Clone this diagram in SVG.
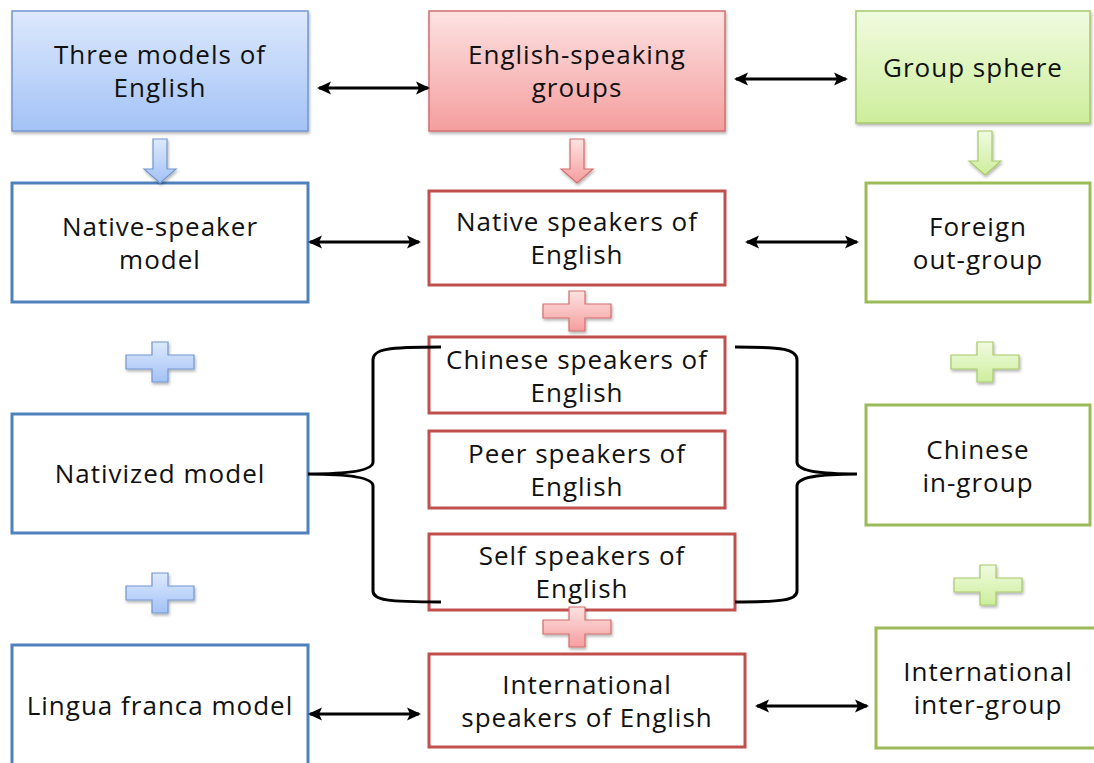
<svg xmlns="http://www.w3.org/2000/svg" width="1094" height="763" viewBox="0 0 1094 763">
<defs>
<linearGradient id="gb" x1="0" y1="0" x2="0" y2="1"><stop offset="0" stop-color="#dde9fd"/><stop offset="1" stop-color="#a3c2f6"/></linearGradient>
<linearGradient id="gr" x1="0" y1="0" x2="0" y2="1"><stop offset="0" stop-color="#fde2e2"/><stop offset="1" stop-color="#f59e9e"/></linearGradient>
<linearGradient id="gg" x1="0" y1="0" x2="0" y2="1"><stop offset="0" stop-color="#f0fbe0"/><stop offset="1" stop-color="#cdee9c"/></linearGradient>
<filter id="sh" x="-10%" y="-10%" width="130%" height="130%"><feDropShadow dx="1" dy="2" stdDeviation="1.5" flood-color="#000" flood-opacity="0.3"/></filter>
<marker id="ah" viewBox="0 0 16 16" refX="13" refY="8" markerWidth="16" markerHeight="16" markerUnits="userSpaceOnUse" orient="auto-start-reverse"><path d="M1,1.5 L15,8 L1,14.5 L4,8 Z" fill="#000"/></marker>
<path id="plus" d="M-8,-20 H8 V-7 H34 V7 H8 V20 H-8 V7 H-34 V-7 H-8 Z"/>
<path id="down" d="M-7,0 H7 V30 H16 L0,44 L-16,30 H-7 Z"/>
</defs>
<style>
text{font-family:"Open Sans","Liberation Sans",sans-serif;font-size:26px;letter-spacing:1px;fill:#111;text-anchor:middle}
.hb{fill:url(#gb);stroke:#7397d0;stroke-width:1.5;filter:url(#sh)}
.hr{fill:url(#gr);stroke:#d26e6c;stroke-width:1.5;filter:url(#sh)}
.hg{fill:url(#gg);stroke:#a7c96b;stroke-width:1.5;filter:url(#sh)}
.bb{fill:#fff;stroke:#4f81bd;stroke-width:3}
.br{fill:#fff;stroke:#c0504d;stroke-width:3}
.bg{fill:#fff;stroke:#9bbb59;stroke-width:3}
.pb{fill:url(#gb);stroke:#7397d0;stroke-width:1.2;filter:url(#sh)}
.pr{fill:url(#gr);stroke:#d26e6c;stroke-width:1.2;filter:url(#sh)}
.pg{fill:url(#gg);stroke:#a7c96b;stroke-width:1.2;filter:url(#sh)}
.con{fill:none;stroke:#000;stroke-width:3}
.dbl{marker-start:url(#ah);marker-end:url(#ah)}
</style>
<rect width="1094" height="763" fill="#fff"/>

<g id="n-three-models"><rect class="hb" x="12" y="11" width="296" height="120"/><text x="160" y="64">Three models of</text><text x="160" y="97">English</text></g>
<g id="n-english-speaking"><rect class="hr" x="429" y="11" width="296" height="120"/><text x="577" y="64">English-speaking</text><text x="577" y="97">groups</text></g>
<g id="n-group-sphere"><rect class="hg" x="856" y="11" width="234" height="112"/><text x="973" y="77">Group sphere</text></g>

<g id="n-native-model"><rect class="bb" x="12" y="183" width="296" height="119"/><text x="160" y="236">Native-speaker</text><text x="160" y="269">model</text></g>
<g id="n-native-speakers"><rect class="br" x="429" y="191" width="296" height="94"/><text x="577" y="231">Native speakers of</text><text x="577" y="264">English</text></g>
<g id="n-foreign"><rect class="bg" x="866" y="183" width="224" height="119"/><text x="978" y="236">Foreign</text><text x="978" y="269">out-group</text></g>

<g id="n-chinese-speakers"><rect class="br" x="429" y="337" width="296" height="76"/><text x="577" y="369">Chinese speakers of</text><text x="577" y="402">English</text></g>
<g id="n-peer-speakers"><rect class="br" x="429" y="431" width="296" height="77"/><text x="577" y="463">Peer speakers of</text><text x="577" y="496">English</text></g>
<g id="n-self-speakers"><rect class="br" x="429" y="534" width="306" height="76"/><text x="582" y="565">Self speakers of</text><text x="582" y="598">English</text></g>
<g id="n-nativized"><rect class="bb" x="12" y="414" width="296" height="119"/><text x="160" y="483">Nativized model</text></g>
<g id="n-chinese-ingroup"><rect class="bg" x="866" y="405" width="224" height="120"/><text x="978" y="459">Chinese</text><text x="978" y="492">in-group</text></g>

<g id="n-lingua"><rect class="bb" x="12" y="645" width="296" height="125"/><text x="160" y="715">Lingua franca model</text></g>
<g id="n-international-speakers"><rect class="br" x="429" y="654" width="316" height="93"/><text x="587" y="694">International</text><text x="587" y="727">speakers of English</text></g>
<g id="n-international-group"><rect class="bg" x="876" y="628" width="224" height="120"/><text x="988" y="681">International</text><text x="988" y="714">inter-group</text></g>

<g id="connectors">
<line class="con dbl" x1="319" y1="88" x2="428" y2="88"/>
<line class="con dbl" x1="736" y1="79" x2="846" y2="79"/>
<line class="con dbl" x1="310" y1="242" x2="419" y2="242"/>
<line class="con dbl" x1="747" y1="242" x2="857" y2="242"/>
<line class="con dbl" x1="310" y1="714" x2="419" y2="714"/>
<line class="con dbl" x1="757" y1="706" x2="867" y2="706"/>
<use href="#down" class="pb" x="160" y="139"/>
<use href="#down" class="pr" x="577" y="139"/>
<use href="#down" class="pg" x="985" y="131"/>
<use href="#plus" class="pr" x="577" y="311"/>
<use href="#plus" class="pb" x="160" y="362"/>
<use href="#plus" class="pg" x="985" y="362"/>
<use href="#plus" class="pb" x="160" y="593"/>
<use href="#plus" class="pg" x="988" y="585"/>
<use href="#plus" class="pr" x="577" y="627"/>
<path class="con" d="M441,347 C387,347 373,349 373,360 L373,462 C373,470 352,474 308,474 C352,474 373,478 373,486 L373,591 C373,600 387,602 441,602"/>
<path class="con" d="M735,347 C783,347 797,349 797,360 L797,462 C797,470 815,474 857,474 C815,474 797,478 797,486 L797,591 C797,600 783,602 735,602"/>
</g>
</svg>
